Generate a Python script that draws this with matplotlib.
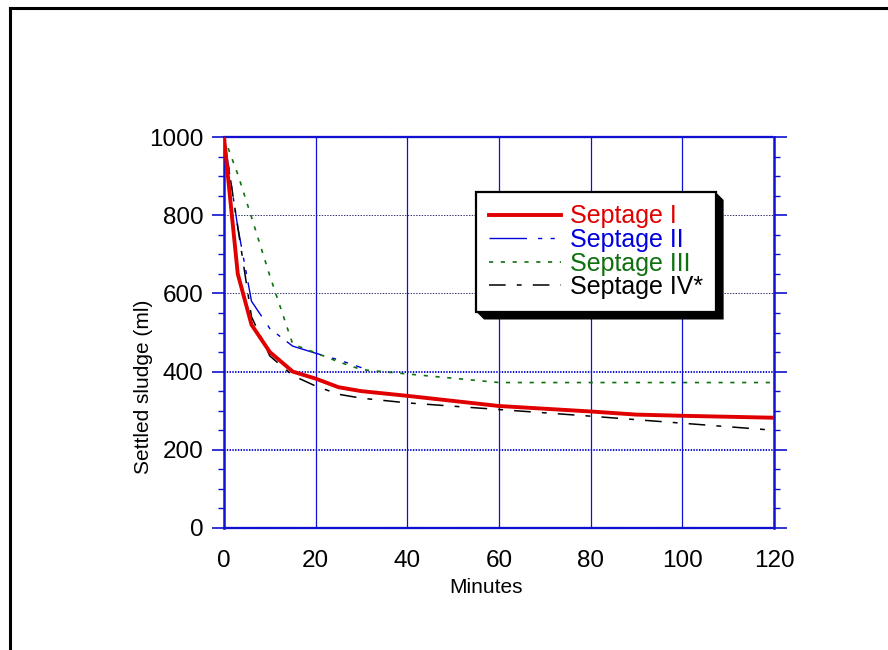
import matplotlib
matplotlib.use("Agg")
import matplotlib.pyplot as plt
from matplotlib.lines import Line2D
from matplotlib.patches import Polygon
from matplotlib.transforms import IdentityTransform
from matplotlib.ticker import MultipleLocator

plt.rcParams['font.family'] = ['Liberation Sans', 'DejaVu Sans']
plt.rcParams['lines.scale_dashes'] = False

# ---- data ----
t1 = [0, 3, 6, 10, 15, 20, 25, 30, 40, 60, 80, 90, 100, 120]
s1 = [1000, 650, 520, 450, 400, 382, 360, 350, 338, 312, 298, 290, 287, 282]

t2 = [0, 3, 6, 10, 15, 20, 25, 30]
s2 = [1000, 770, 580, 510, 465, 447, 430, 410]

t3 = [0, 3, 6, 10, 15, 20, 25, 30, 40, 60, 80, 100, 120]
s3 = [1000, 905, 795, 645, 470, 448, 425, 405, 394, 372, 372, 372, 372]

t4 = [0, 3, 6, 10, 15, 20, 25, 30, 40, 60, 80, 100, 120]
s4 = [1000, 770, 540, 440, 390, 363, 342, 332, 320, 303, 286, 268, 250]

labels = ["Septage I", "Septage II", "Septage III", "Septage IV*"]
xticks = [0, 20, 40, 60, 80, 100, 120]
yticks = [0, 200, 400, 600, 800, 1000]

RED = '#e00000'
BLUE = '#0000dd'
GREEN = '#107010'
BLACK = '#000000'
AXBLUE = '#1010d0'

fig = plt.figure(figsize=(8.88, 6.5), dpi=100)
ax = fig.add_axes([224/888, 1-528/650, 550/888, 391/650])

# grid
for x in xticks[1:-1]:
    ax.axvline(x, color=AXBLUE, lw=0.9, zorder=1)
for y in [200, 400]:
    ax.axhline(y, color=AXBLUE, lw=1.4, ls=(0, (1, 1)), zorder=1)
for y in [600, 800]:
    ax.axhline(y, color='#303070', lw=0.7, ls=(0, (1, 1)), zorder=1)

ax.plot(t1, s1, color=RED, lw=2.8, label=labels[0], zorder=4)
ax.plot(t2, s2, color=BLUE, lw=1.0, ls=(0, (27, 8, 3, 6, 3, 6)), label=labels[1], zorder=3)
ax.plot(t3, s3, color=GREEN, lw=1.2, ls=(0, (3, 5.5)), label=labels[2], zorder=3)
ax.plot(t4, s4, color=BLACK, lw=1.1, ls=(0, (12, 8, 3.5, 8)), label=labels[3], zorder=3)

ax.set_xlim(0, 120)
ax.set_ylim(0, 1000)
ax.set_xticks(xticks)
ax.set_yticks(yticks)
ax.yaxis.set_minor_locator(MultipleLocator(50))
ax.tick_params(axis='x', length=0, pad=16, labelsize=17.5)
ax.tick_params(axis='y', which='major', direction='out', length=9, width=1.2,
               color=AXBLUE, pad=6, labelsize=17.5, left=True, right=True)
ax.tick_params(axis='y', which='minor', direction='out', length=4.5, width=1.0,
               color=AXBLUE, left=True, right=True)

for s in ['left', 'right']:
    ax.spines[s].set_color(AXBLUE)
    ax.spines[s].set_linewidth(1.8)
for s in ['top', 'bottom']:
    ax.spines[s].set_color(AXBLUE)
    ax.spines[s].set_linewidth(1.6)
    ax.spines[s].set_linestyle((0, (1, 1)))

ax.set_xlabel("Minutes", fontsize=15)
ax.xaxis.set_label_coords(0.477, -0.153)
ax.xaxis.label.set_va('center')
ax.set_ylabel("Settled sludge (ml)", fontsize=15)
ax.yaxis.set_label_coords(-0.146, 0.36)
ax.yaxis.label.set_va('center')

leg = ax.legend(loc='upper left', bbox_to_anchor=(476/888, 1-192/650),
                bbox_transform=fig.transFigure, borderaxespad=0,
                fontsize=18, handlelength=2.88, handletextpad=0.38,
                borderpad=0.5, labelspacing=-0.02, fancybox=False,
                framealpha=1, edgecolor='black')
leg.get_frame().set_linewidth(1.6)
for txt, c in zip(leg.get_texts(), [RED, BLUE, GREEN, BLACK]):
    txt.set_color(c)
leg.set_zorder(6)

fig.canvas.draw()
bb = leg.get_window_extent()
d = 8
x0, y0, x1, y1 = bb.x0, bb.y0, bb.x1, bb.y1
shadow = Polygon([(x1, y1), (x1 + d, y1 - d), (x1 + d, y0 - d), (x0 + d, y0 - d),
                  (x0, y0), (x1, y0)], closed=True, facecolor='black',
                 edgecolor='none', transform=IdentityTransform(), zorder=5.5)
shadow.set_clip_on(False)
ax.add_artist(shadow)

# figure frame (left and top edges)
fig.add_artist(Line2D([10/888, 10/888], [0, 1-8/650], color='black', lw=2.2,
                      transform=fig.transFigure))
fig.add_artist(Line2D([10/888, 1], [1-8/650, 1-8/650], color='black', lw=2.2,
                      transform=fig.transFigure))

fig.savefig("out.png", dpi=100)
